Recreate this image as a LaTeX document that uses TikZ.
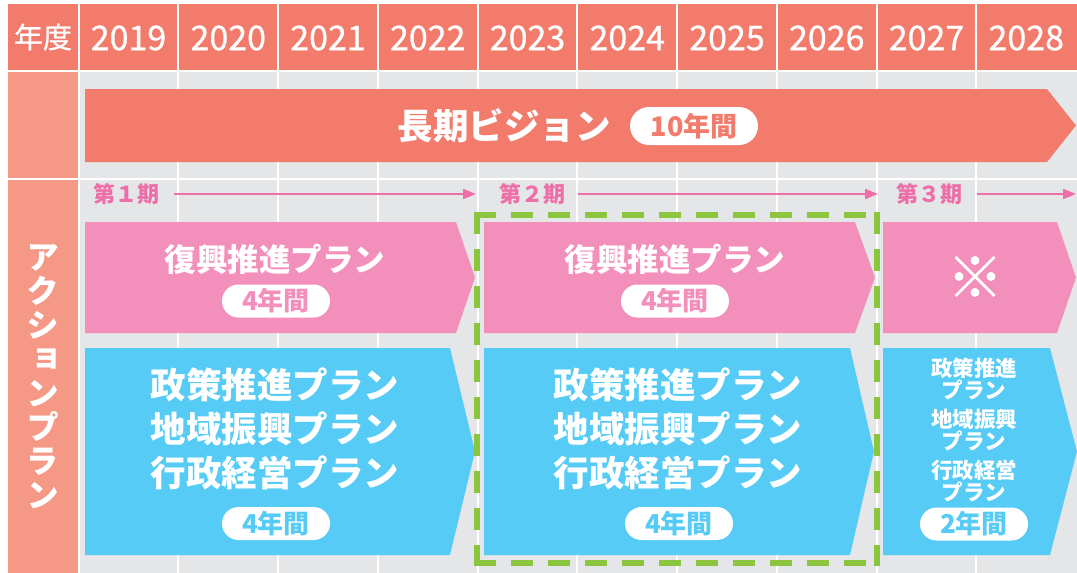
\documentclass[tikz,border=0pt]{standalone}
\usepackage{fontspec}
\setmainfont{Noto Sans CJK JP}
\newfontfamily\jpm{Noto Sans CJK JP}[FakeBold=0.8]
\newfontfamily\jpv{Noto Sans CJK JP}[RawFeature=+vert]
\usetikzlibrary{arrows.meta}
\definecolor{hdr}{HTML}{F27B6B}
\definecolor{side}{HTML}{F69886}
\definecolor{gridbg}{HTML}{E5E6E8}
\definecolor{pinkbox}{HTML}{F290BB}
\definecolor{bluebox}{HTML}{56CBF5}
\definecolor{grn}{HTML}{8CC63F}
\definecolor{perpink}{HTML}{EE6FA8}
\begin{document}
\begin{tikzpicture}[x=1pt,y=-1pt,
  yr/.style={text=white,inner sep=0pt,font=\jpm\fontsize{34}{34}\selectfont},
  bigtxt/.style={text=white,inner sep=0pt,font=\bfseries\fontsize{31.5}{31.5}\selectfont},
  bluetxt/.style={text=white,inner sep=0pt,align=center,font=\bfseries\fontsize{35.5}{44}\selectfont},
  smalltxt/.style={text=white,inner sep=0pt,align=center,font=\bfseries\fontsize{21.5}{20}\selectfont},
  badge/.style={fill=white,rounded corners=16.5pt,minimum width=108pt,minimum height=33pt,inner sep=0pt,font=\bfseries\fontsize{26}{26}\selectfont},
  per/.style={text=perpink,inner sep=0pt,font=\bfseries\fontsize{22}{22}\selectfont},
  perarrow/.style={draw=perpink,line width=2pt,-{Triangle[length=13pt,width=10pt]}},
  greenbox/.style={draw=grn,line width=6pt,dash pattern=on 16pt off 21pt,line cap=rect},
  gridline/.style={draw=white,line width=2pt}
]
\useasboundingbox (0,0) rectangle (1077,573);
\fill[white] (0,0) rectangle (1077,573);
% header and side
\fill[hdr] (8,4) rectangle (1077,70);
\fill[side] (8,72) rectangle (78,178);
\fill[side] (8,180) rectangle (78,573);
\fill[gridbg] (79,72) rectangle (1077,573);
\foreach \i in {0,...,9} \draw[gridline] ({78.5+99.75*\i},4) -- ({78.5+99.75*\i},573);
\draw[gridline] (8,71) -- (1077,71);
\draw[gridline] (8,179) -- (1077,179);
% header texts
\node[yr,font=\jpm\fontsize{29}{29}\selectfont] (nendo) at (43,37) {年度};
\foreach \y [count=\k from 0] in {2019,2020,2021,2022,2023,2024,2025,2026,2027,2028}
  \node[yr] (y\y) at ({128.5+99.75*\k},38) {\y};
% long vision
\fill[hdr] (85,89) -- (1047,89) -- (1076,125.5) -- (1047,162) -- (85,162) -- cycle;
\node[text=white,inner sep=0pt,font=\bfseries\fontsize{35.5}{35.5}\selectfont] (vision) at (504,126) {長期ビジョン};
\node[badge,minimum width=128pt,minimum height=38pt,rounded corners=19pt,text=hdr,font=\bfseries\fontsize{27}{27}\selectfont] (b10) at (694,126) {10年間};
% side vertical label
\node[text=white,inner sep=0pt,align=center,font=\jpv\bfseries\fontsize{33}{34}\selectfont] (action) at (43,377) {ア\\ク\\シ\\ョ\\ン\\プ\\ラ\\ン};
% periods
\node[per] (p1) at (126.5,194) {第１期};
\node[per] (p2) at (532,194) {第２期};
\node[per] (p3) at (929,194) {第３期};
\coordinate (a1s) at (174,194); \coordinate (a1e) at (476,194);
\coordinate (a2s) at (578,194); \coordinate (a2e) at (878,194);
\coordinate (a3s) at (977,194); \coordinate (a3e) at (1076,194);
\draw[perarrow] (a1s) -- (a1e);
\draw[perarrow] (a2s) -- (a2e);
\draw[perarrow] (a3s) -- (a3e);
% pink boxes
\fill[pinkbox] (85,222) -- (456,222) -- (475,277.5) -- (456,333) -- (85,333) -- cycle;
\fill[pinkbox] (484,222) -- (855,222) -- (875,277.5) -- (855,333) -- (484,333) -- cycle;
\fill[pinkbox] (883,222) -- (1057,222) -- (1076,277.5) -- (1057,333) -- (883,333) -- cycle;
\node[bigtxt] (r1) at (275,259) {復興推進プラン};
\node[badge,text=pinkbox] (rb1) at (276,301) {4年間};
\node[bigtxt] (r2) at (675,259) {復興推進プラン};
\node[badge,text=pinkbox] (rb2) at (675,301) {4年間};
\node[text=white,inner sep=0pt,font=\jpm\fontsize{56}{56}\selectfont] (kome) at (975,277) {※};
% blue boxes
\fill[bluebox] (85,348) -- (450,348) -- (475,451.5) -- (450,555) -- (85,555) -- cycle;
\fill[bluebox] (484,348) -- (850,348) -- (874,451.5) -- (850,555) -- (484,555) -- cycle;
\fill[bluebox] (883,348) -- (1050,348) -- (1077,451.5) -- (1050,555) -- (883,555) -- cycle;
\node[bluetxt] (s1) at (275,429) {政策推進プラン\\地域振興プラン\\行政経営プラン};
\node[badge,text=bluebox] (sb1) at (276,523.5) {4年間};
\node[bluetxt] (s2) at (678,429) {政策推進プラン\\地域振興プラン\\行政経営プラン};
\node[badge,text=bluebox] (sb2) at (679,523.5) {4年間};
\node[smalltxt] (s3) at (974,430) {政策推進\\プラン\\[9pt]地域振興\\プラン\\[9pt]行政経営\\プラン};
\node[badge,text=bluebox] (sb3) at (974,524) {2年間};
% green dashed frame
\draw[greenbox] (477,215) -- (877,215);
\draw[greenbox] (477,215) -- (477,563);
\draw[greenbox] (877,215) -- (877,563);
\draw[greenbox] (477,563) -- (877,563);
\end{tikzpicture}
\end{document}
